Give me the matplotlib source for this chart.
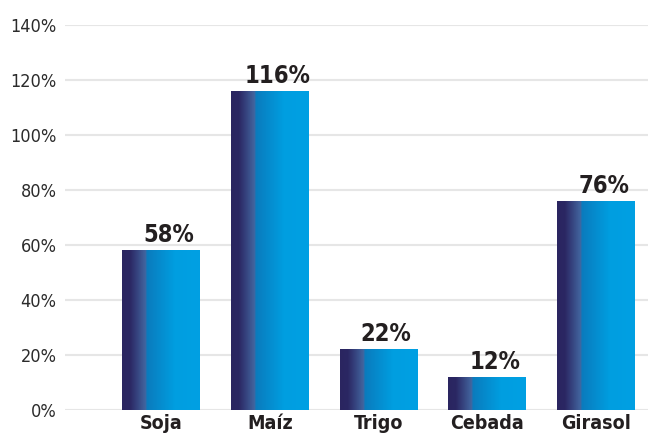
import numpy as np
import matplotlib
matplotlib.use('Agg')
import matplotlib.pyplot as plt
from matplotlib import font_manager
from matplotlib.colors import LinearSegmentedColormap

# crop yield change by crop
cultivos = ['Soja', 'Maíz', 'Trigo', 'Cebada', 'Girasol']
variacion = [58, 116, 22, 12, 76]
yticks = [0, 20, 40, 60, 80, 100, 120, 140]

# prefer a narrow face if one is installed, otherwise Liberation Sans
narrow = [f for f in font_manager.fontManager.ttflist
          if ('Condensed' in f.name or 'Narrow' in f.name
              or 'condensed' in str(f.stretch) or 'Condensed' in f.fname)]
if narrow:
    fuente = narrow[0].name
    ancho_fuente = 'condensed'
else:
    fuente = 'Liberation Sans'
    ancho_fuente = 'normal'
plt.rcParams['font.family'] = [fuente, 'DejaVu Sans']
plt.rcParams['font.stretch'] = ancho_fuente

# horizontal gradient used to fill each bar
grad = LinearSegmentedColormap.from_list('barra', [
    (0.00, '#2a2560'),
    (0.10, '#2b2763'),
    (0.30, '#42659f'),
    (0.32, '#0a7bbd'),
    (0.68, '#009ee0'),
    (1.00, '#00a0e3'),
])
fill = grad(np.linspace(0, 1, 300))[np.newaxis, :, :]

fig = plt.figure(figsize=(6.54, 4.37), dpi=100)
ax = fig.add_axes([0.0994, 0.0618, 0.8914, 0.881])

x = np.arange(len(cultivos))
ancho = 0.717
bars = ax.bar(x, variacion, width=ancho, color='none', zorder=3)
for b, v in zip(bars, variacion):
    ax.imshow(fill, extent=[b.get_x(), b.get_x() + b.get_width(), 0, v],
              aspect='auto', zorder=3, interpolation='bilinear')
    ax.text(b.get_x() + b.get_width() / 2 + 0.07, v + 1.2, f'{v}%',
            ha='center', va='bottom', fontsize=17, fontweight='bold',
            color='#231f20', zorder=4)

ax.set_xlim(-0.883, 4.478)
ax.set_ylim(0, 140)
ax.set_yticks(yticks)
ax.set_yticklabels([f'{t}%' for t in yticks], fontsize=13, color='#2b2b2b')
ax.set_xticks(x)
ax.set_xticklabels(cultivos, fontsize=14, fontweight='bold', color='#231f20')
ax.tick_params(axis='both', length=0)
ax.tick_params(axis='y', pad=6)
ax.tick_params(axis='x', pad=3)
ax.yaxis.grid(True, color='#e6e6e6', linewidth=1.5, zorder=0)
ax.set_axisbelow(True)
for s in ax.spines.values():
    s.set_visible(False)

fig.savefig('out.png', dpi=100)
